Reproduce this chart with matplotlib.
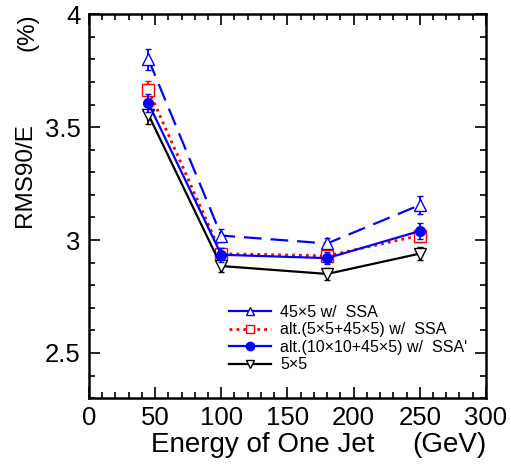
import matplotlib
matplotlib.use('Agg')
import matplotlib.pyplot as plt
from matplotlib.ticker import MultipleLocator
from matplotlib.lines import Line2D

plt.rcParams['font.family'] = ['Liberation Sans', 'DejaVu Sans']

energy = [45, 100, 180, 250]

ssa_45x5 = [3.80, 3.02, 2.985, 3.155]
ssa_45x5_err = [0.045, 0.03, 0.025, 0.04]

alt_5x5 = [3.665, 2.94, 2.93, 3.02]
alt_5x5_err = [0.04, 0.025, 0.025, 0.03]

alt_10x10 = [3.605, 2.935, 2.92, 3.04]
alt_10x10_err = [0.04, 0.03, 0.025, 0.035]

plain_5x5 = [3.555, 2.885, 2.85, 2.94]
plain_5x5_err = [0.04, 0.025, 0.025, 0.03]

labels = ['45×5 w/  SSA', 'alt.(5×5+45×5) w/  SSA',
          'alt.(10×10+45×5) w/  SSA\'', '5×5']

fig = plt.figure(figsize=(5.11, 4.74), dpi=100)
ax = fig.add_axes([0.174, 0.160, 0.777, 0.810])

# (data, err, color, linestyle, marker, face, lw)
series = [
    (ssa_45x5, ssa_45x5_err, 'blue', (0, (8, 4)), '^', 'white', 1.6),
    (alt_5x5, alt_5x5_err, 'red', (0, (1, 1.5)), 's', 'white', 2.0),
    (alt_10x10, alt_10x10_err, 'blue', '-', 'o', 'blue', 1.6),
    (plain_5x5, plain_5x5_err, 'black', '-', 'v', 'white', 1.6),
]

handles = []
for vals, err, c, ls, m, fc, lw in series:
    ax.errorbar(energy, vals, yerr=err, color=c, ls=ls, lw=lw, marker=m,
                mfc=fc, mec=c, ms=8 if m != 'o' else 7, capsize=2.5,
                elinewidth=1.3, zorder=4 if m == 'o' else 3)
    handles.append(Line2D([], [], color=c, ls=ls if m != '^' else '-', lw=lw,
                          marker=m, mfc=fc, mec=c, ms=6))

ax.set_xlim(0, 300)
ax.set_ylim(2.3, 4.0)
ax.xaxis.set_major_locator(MultipleLocator(50))
ax.xaxis.set_minor_locator(MultipleLocator(10))
ax.yaxis.set_minor_locator(MultipleLocator(0.1))
ax.set_yticks([2.5, 3, 3.5, 4])
ax.set_yticklabels(['2.5', '3', '3.5', '4'])
ax.tick_params(which='both', direction='in', top=True, right=True,
               labelsize=18.5, width=1.2)
ax.tick_params(which='major', length=8, pad=6)
ax.tick_params(which='minor', length=4)
for s in ax.spines.values():
    s.set_linewidth(1.8)

fig.text(263 / 511, 1 - 452 / 474, 'Energy of One Jet', fontsize=20,
         ha='center', va='baseline')
fig.text(449 / 511, 1 - 452 / 474, '(GeV)', fontsize=20,
         ha='center', va='baseline')
fig.text(25 / 511, 1 - 175 / 474, 'RMS90/E', fontsize=17.5, rotation=90,
         ha='center', va='center')
fig.text(27 / 511, 1 - 32 / 474, '(%)', fontsize=17.5, rotation=90,
         ha='center', va='center')

fig.legend(handles, labels, loc='upper left',
           bbox_to_anchor=(229 / 511, 1 - 305 / 474), frameon=False,
           fontsize=11.5, handlelength=2.6, labelspacing=0.15, borderpad=0,
           borderaxespad=0, handletextpad=0.6)

fig.savefig('out.png', dpi=100)
